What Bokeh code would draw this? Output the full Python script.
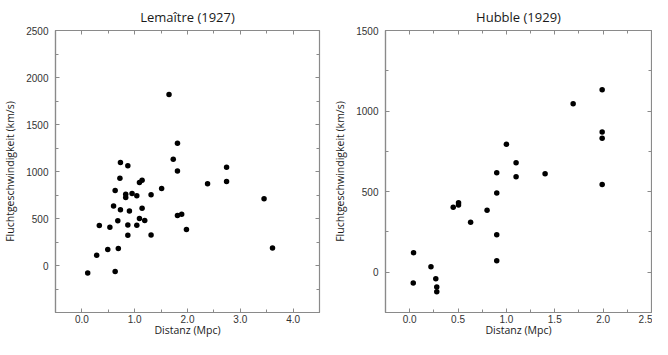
from bokeh.plotting import figure
from bokeh.layouts import row
from bokeh.models import FixedTicker, LinearAxis, NumeralTickFormatter, CustomJSTickFormatter
from bokeh.embed import file_html
from bokeh.resources import INLINE

# Lemaître (1927): distance (Mpc), velocity (km/s)
lem_dist = [0.11, 0.28, 0.33, 0.53, 0.49, 0.63, 0.60, 0.63, 0.68, 0.69, 0.72, 0.73,
            0.83, 0.83, 0.73, 0.87, 0.95, 1.04, 1.09, 1.14, 0.90, 0.87, 0.87, 1.04,
            1.09, 1.14, 1.19, 1.31, 1.31, 1.51, 1.65, 1.81, 1.73, 1.81, 1.81, 1.89,
            1.98, 2.38, 2.74, 2.74, 3.45, 3.61]
lem_vel = [-79, 110, 425, 408, 171, -65, 634, 798, 476, 182, 928, 593,
           757, 723, 1095, 1060, 767, 743, 884, 908, 579, 432, 322, 428,
           500, 610, 479, 753, 325, 819, 1820, 1300, 1130, 1005, 531, 545,
           384, 870, 1045, 894, 709, 185]

# Hubble (1929)
hub_dist = [0.04, 0.037, 0.22, 0.27, 0.28, 0.28, 0.45, 0.505, 0.505, 0.63, 0.80, 0.90,
            0.90, 0.90, 0.90, 1.00, 1.10, 1.10, 1.40, 1.69, 1.99, 1.99, 1.99, 1.99]
hub_vel = [121, -67, 34, -40, -91, -121, 403, 431, 417, 310, 385, 617,
           492, 232, 71, 794, 679, 593, 611, 1045, 1132, 870, 832, 544]

lem_xticks = [0.0, 1.0, 2.0, 3.0, 4.0]
lem_xminor = [-0.5, 0.5, 1.5, 2.5, 3.5, 4.5]
lem_yticks = [0, 500, 1000, 1500, 2000, 2500]
lem_yminor = [-500, -250, 250, 750, 1250, 1750, 2250]

hub_xticks = [0.0, 0.5, 1.0, 1.5, 2.0, 2.5]
hub_xminor = [-0.25, 0.25, 0.75, 1.25, 1.75, 2.25]
hub_yticks = [0, 500, 1000, 1500]
hub_yminor = [-250, 250, 750, 1250]

TICK_FONT = "Liberation Sans"
LABEL_FONT = "Open Sans"
FRAME = "#8a8a8a"


def make(title, xs, ys, xr, yr, xt, xm, yt, ym, width, mbl, mbr):
    p = figure(width=width, height=339, x_range=xr, y_range=yr,
               output_backend="svg", toolbar_location=None,
               min_border_left=mbl, min_border_right=mbr,
               min_border_top=24, min_border_bottom=20,
               title=title)
    p.title.text_font = LABEL_FONT
    p.title.text_font_size = "13px"
    p.title.text_font_style = "normal"
    p.title.align = "center"
    p.title.text_color = "#1a1a1a"
    p.grid.visible = False
    p.outline_line_color = FRAME
    p.outline_line_width = 1.2
    p.outline_line_alpha = 1

    # mirror axes (top & right) with inward ticks only
    p.add_layout(LinearAxis(), "above")
    p.add_layout(LinearAxis(), "right")

    for ax in p.xaxis:
        ax.ticker = FixedTicker(ticks=xt, minor_ticks=xm)
        ax.formatter = NumeralTickFormatter(format="0.0")
    for ax in p.yaxis:
        ax.ticker = FixedTicker(ticks=yt, minor_ticks=ym)
    for ax in p.xaxis + p.yaxis:
        ax.major_tick_in = 4
        ax.major_tick_out = 0
        ax.minor_tick_in = 3
        ax.minor_tick_out = 0
        ax.major_tick_line_color = FRAME
        ax.minor_tick_line_color = FRAME
        ax.axis_line_color = FRAME
        ax.axis_line_width = 1.2
        ax.major_label_text_font = TICK_FONT
        ax.major_label_text_font_size = "10px"
        ax.major_label_text_color = "#333333"
        ax.axis_label_text_font = LABEL_FONT
        ax.axis_label_text_font_size = "10.5px"
        ax.axis_label_text_font_style = "normal"
        ax.axis_label_text_color = "#1a1a1a"
    for ax in (p.above[0], p.right[0]):
        ax.formatter = CustomJSTickFormatter(code="return '';")
        ax.major_label_text_color = None
        ax.major_label_standoff = 0
        ax.axis_label_standoff = 0
        ax.axis_line_color = None

    xa = p.below[0]
    ya = p.left[0]
    xa.axis_label = "Distanz (Mpc)"
    ya.axis_label = "Fluchtgeschwindigkeit (km/s)"
    xa.major_label_standoff = 2
    xa.axis_label_standoff = -3
    ya.major_label_standoff = 7
    ya.axis_label_standoff = 6

    p.scatter(xs, ys, size=5.5, color="black", line_color=None)
    return p


p1 = make("Lemaître (1927)", lem_dist, lem_vel, (-0.5, 4.5), (-500, 2500),
          lem_xticks, lem_xminor, lem_yticks, lem_yminor, 330, 47, 11)
p2 = make("Hubble (1929)", hub_dist, hub_vel, (-0.25, 2.5), (-250, 1500),
          hub_xticks, hub_xminor, hub_yticks, hub_yminor, 322, 49, 1)

p = row(p1, p2)
open("out.html", "w").write(file_html(p, INLINE))
